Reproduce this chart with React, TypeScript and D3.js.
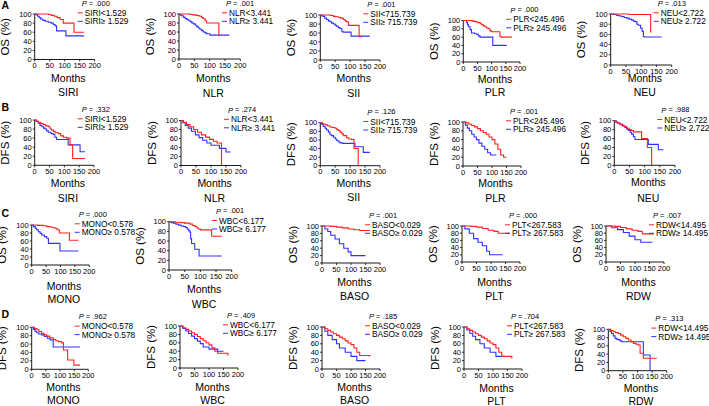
import React from "react";
import * as d3 from "d3";

type Pt = [number, number];

// ---------- labels ----------
const markers = ["SIRI", "NLR", "SII", "PLR", "NEU", "MONO", "WBC", "BASO", "PLT", "RDW"];
const cutoffs = ["1.529", "3.441", "715.739", "245.496", "2.722", "0.578", "6.177", "0.029", "267.583", "14.495"];
const endpoints = ["OS", "DFS", "OS", "DFS"];
const rowLetters = ["A", "B", "C", "D"];
const pValues = [
  ".000", ".001", ".001", ".000", ".013",
  ".332", ".274", ".126", ".001", ".988",
  ".000", ".001", ".001", ".000", ".007",
  ".962", ".409", ".185", ".704", ".313",
];
const yTicks = [0, 20, 40, 60, 80, 100];
const xTicks = [0, 50, 100, 150, 200];
const monthMax = 200;

// ---------- survival curves: [month, %] step points ----------
// Row A: OS
const OS_SIRI_LOW: Pt[] = [[0, 100], [45, 99], [55, 97], [65, 95], [75, 92], [85, 88], [95, 80], [131, 60], [165, 60]];
const OS_SIRI_HIGH: Pt[] = [[0, 100], [5, 98], [10, 95], [15, 92], [20, 89], [27, 86], [35, 84], [45, 82], [55, 80], [62, 77], [68, 74], [73, 63], [104, 52], [165, 52]];
const OS_NLR_LOW: Pt[] = [[0, 100], [36, 99], [45, 98], [55, 97], [62, 96], [68, 95], [74, 92], [79, 90], [85, 85], [90, 80], [130, 53], [134, 53]];
const OS_NLR_HIGH: Pt[] = [[0, 100], [3, 98], [8, 96], [14, 93], [20, 90], [25, 88], [30, 86], [36, 83], [42, 80], [47, 78], [53, 75], [58, 72], [63, 69], [68, 66], [74, 63], [79, 60], [85, 58], [90, 56], [101, 53], [164, 53]];
const OS_SII_LOW: Pt[] = [[0, 100], [35, 99], [44, 97], [52, 96], [60, 95], [68, 93], [77, 90], [83, 87], [88, 85], [94, 77], [130, 52], [139, 52]];
const OS_SII_HIGH: Pt[] = [[0, 100], [5, 98], [10, 97], [15, 93], [21, 90], [27, 87], [32, 85], [38, 82], [44, 80], [50, 77], [55, 75], [60, 72], [66, 70], [72, 64], [76, 62], [103, 53], [166, 53]];
const OS_PLR_LOW: Pt[] = [[0, 100], [30, 99], [35, 98], [45, 96], [53, 95], [60, 92], [65, 90], [70, 87], [76, 85], [82, 82], [88, 80], [94, 75], [100, 73], [129, 62], [134, 60], [171, 60]];
const OS_PLR_HIGH: Pt[] = [[0, 100], [12, 95], [15, 90], [18, 85], [24, 78], [29, 70], [40, 68], [47, 67], [53, 63], [59, 60], [104, 40], [153, 40]];
const OS_NEU_LOW: Pt[] = [[0, 100], [60, 99], [131, 65], [134, 65]];
const OS_NEU_HIGH: Pt[] = [[0, 100], [10, 99], [20, 97], [28, 96], [36, 95], [44, 93], [52, 92], [60, 90], [69, 88], [75, 86], [80, 85], [86, 80], [91, 78], [98, 72], [103, 66], [107, 56], [110, 55], [167, 55]];

// Row B: DFS
const DFS_SIRI_LOW: Pt[] = [[0, 100], [6, 97], [12, 95], [20, 92], [29, 90], [37, 87], [46, 85], [52, 80], [57, 78], [63, 75], [69, 72], [80, 70], [88, 65], [97, 62], [108, 60], [119, 45], [128, 15], [170, 15]];
const DFS_SIRI_HIGH: Pt[] = [[0, 100], [5, 97], [12, 93], [18, 88], [24, 85], [30, 82], [35, 80], [40, 76], [46, 73], [55, 70], [63, 68], [68, 62], [74, 57], [113, 45], [153, 30], [170, 30]];
const DFS_NLR_LOW: Pt[] = [[0, 100], [8, 96], [18, 91], [30, 86], [42, 80], [55, 74], [68, 68], [82, 63], [95, 58], [108, 54], [120, 50], [135, 0]];
const DFS_NLR_HIGH: Pt[] = [[0, 100], [6, 95], [14, 89], [24, 83], [35, 76], [48, 68], [60, 62], [72, 56], [86, 50], [100, 45], [128, 38], [150, 30], [165, 30]];
const DFS_SII_LOW: Pt[] = [[0, 100], [8, 97], [16, 95], [24, 93], [32, 90], [40, 89], [49, 87], [55, 84], [60, 82], [66, 78], [72, 74], [77, 70], [88, 65], [95, 62], [105, 61], [113, 40], [127, 0]];
const DFS_SII_HIGH: Pt[] = [[0, 100], [5, 96], [10, 91], [16, 87], [21, 83], [27, 78], [32, 72], [38, 70], [44, 66], [50, 62], [55, 58], [62, 55], [66, 53], [75, 52], [116, 44], [144, 31], [166, 31]];
const DFS_PLR_LOW: Pt[] = [[0, 100], [10, 98], [20, 95], [30, 92], [40, 89], [50, 85], [60, 80], [70, 76], [80, 72], [90, 66], [100, 60], [110, 50], [120, 38], [130, 25], [140, 20], [150, 20]];
const DFS_PLR_HIGH: Pt[] = [[0, 100], [8, 93], [15, 86], [22, 80], [30, 72], [38, 66], [46, 60], [55, 52], [65, 45], [75, 38], [85, 30], [95, 25], [115, 25]];
const DFS_NEU_LOW: Pt[] = [[0, 100], [6, 97], [12, 94], [18, 92], [24, 90], [32, 87], [41, 83], [49, 80], [57, 78], [63, 75], [90, 60], [109, 40], [123, 0]];
const DFS_NEU_HIGH: Pt[] = [[0, 100], [5, 97], [10, 95], [19, 92], [27, 88], [35, 85], [41, 81], [46, 78], [52, 74], [57, 70], [63, 64], [68, 58], [112, 47], [145, 35], [162, 35]];

// Row C: OS
const OS_MONO_LOW: Pt[] = [[0, 100], [20, 99], [40, 98], [52, 96], [64, 95], [72, 93], [81, 92], [88, 88], [96, 80], [131, 62], [162, 62]];
const OS_MONO_HIGH: Pt[] = [[0, 100], [6, 96], [12, 92], [17, 88], [23, 83], [29, 79], [35, 75], [44, 71], [52, 67], [58, 54], [98, 35], [162, 35]];
const OS_WBC_LOW: Pt[] = [[0, 100], [20, 99], [35, 98], [50, 97], [67, 95], [75, 92], [83, 90], [89, 87], [94, 85], [100, 83], [136, 70], [168, 70]];
const OS_WBC_HIGH: Pt[] = [[0, 100], [7, 98], [14, 97], [22, 95], [30, 93], [38, 91], [46, 90], [52, 88], [58, 85], [63, 81], [67, 78], [69, 65], [72, 55], [82, 43], [96, 29], [168, 29]];
const OS_BASO_LOW: Pt[] = [[0, 100], [30, 99], [50, 97], [70, 95], [90, 92], [110, 90], [130, 88], [165, 88]];
const OS_BASO_HIGH: Pt[] = [[0, 100], [10, 92], [20, 85], [30, 75], [45, 65], [60, 52], [75, 40], [90, 30], [100, 20], [150, 20]];
const OS_PLT_LOW: Pt[] = [[0, 100], [30, 99], [50, 97], [70, 93], [90, 88], [110, 85], [125, 80], [165, 80]];
const OS_PLT_HIGH: Pt[] = [[0, 100], [10, 92], [25, 80], [40, 65], [55, 55], [70, 45], [85, 30], [95, 20], [140, 20]];
const OS_RDW_LOW: Pt[] = [[0, 100], [30, 99], [50, 96], [70, 92], [90, 88], [110, 85], [125, 78], [165, 78]];
const OS_RDW_HIGH: Pt[] = [[0, 100], [20, 95], [40, 90], [60, 82], [80, 72], [100, 62], [120, 55], [160, 55]];

// Row D: DFS
const DFS_MONO_LOW: Pt[] = [[0, 100], [10, 97], [18, 94], [26, 90], [35, 86], [44, 82], [53, 79], [64, 75], [76, 71], [85, 68], [94, 66], [106, 63], [112, 46], [127, 22], [149, 10], [171, 10]];
const DFS_MONO_HIGH: Pt[] = [[0, 100], [6, 95], [12, 90], [18, 87], [25, 84], [35, 82], [45, 78], [55, 74], [65, 70], [76, 53], [171, 53]];
const DFS_WBC_LOW: Pt[] = [[0, 100], [10, 96], [20, 92], [30, 88], [40, 84], [50, 80], [60, 75], [70, 70], [80, 65], [90, 60], [100, 55], [110, 48], [120, 40], [130, 35], [165, 30]];
const DFS_WBC_HIGH: Pt[] = [[0, 100], [10, 94], [20, 88], [30, 82], [40, 76], [50, 70], [60, 64], [70, 58], [80, 50], [100, 45], [130, 40], [150, 40]];
const DFS_BASO_LOW: Pt[] = [[0, 100], [10, 96], [20, 92], [30, 88], [40, 84], [50, 80], [60, 76], [70, 72], [80, 67], [90, 62], [100, 58], [110, 50], [120, 40], [130, 32], [165, 30]];
const DFS_BASO_HIGH: Pt[] = [[0, 100], [10, 90], [20, 80], [35, 70], [50, 60], [60, 50], [80, 40], [100, 30], [120, 20], [150, 20]];
const DFS_PLT_LOW: Pt[] = [[0, 100], [10, 96], [20, 92], [30, 88], [40, 84], [50, 80], [60, 76], [70, 72], [80, 67], [90, 62], [100, 58], [110, 50], [120, 40], [130, 30], [165, 25]];
const DFS_PLT_HIGH: Pt[] = [[0, 100], [10, 93], [20, 85], [30, 78], [40, 70], [55, 60], [70, 50], [90, 40], [110, 30], [140, 30]];
const DFS_RDW_LOW: Pt[] = [[0, 100], [8, 97], [17, 94], [25, 92], [34, 90], [42, 86], [51, 82], [60, 78], [69, 74], [78, 70], [86, 66], [95, 64], [103, 62], [109, 42], [120, 30], [166, 30]];
const DFS_RDW_HIGH: Pt[] = [[0, 100], [6, 95], [11, 90], [17, 84], [23, 78], [30, 75], [40, 72], [46, 70], [120, 38], [143, 0]];

const curves: [Pt[], Pt[]][] = [
  [OS_SIRI_LOW, OS_SIRI_HIGH], [OS_NLR_LOW, OS_NLR_HIGH], [OS_SII_LOW, OS_SII_HIGH], [OS_PLR_LOW, OS_PLR_HIGH], [OS_NEU_LOW, OS_NEU_HIGH],
  [DFS_SIRI_LOW, DFS_SIRI_HIGH], [DFS_NLR_LOW, DFS_NLR_HIGH], [DFS_SII_LOW, DFS_SII_HIGH], [DFS_PLR_LOW, DFS_PLR_HIGH], [DFS_NEU_LOW, DFS_NEU_HIGH],
  [OS_MONO_LOW, OS_MONO_HIGH], [OS_WBC_LOW, OS_WBC_HIGH], [OS_BASO_LOW, OS_BASO_HIGH], [OS_PLT_LOW, OS_PLT_HIGH], [OS_RDW_LOW, OS_RDW_HIGH],
  [DFS_MONO_LOW, DFS_MONO_HIGH], [DFS_WBC_LOW, DFS_WBC_HIGH], [DFS_BASO_LOW, DFS_BASO_HIGH], [DFS_PLT_LOW, DFS_PLT_HIGH], [DFS_RDW_LOW, DFS_RDW_HIGH],
];

// ---------- layout (pixels): x of 0, x of 200, y of 100%, y of 0%, "Months" y, name y ----------
const panelBox: number[][] = [
  [34.7, 94.7, 14, 59.5, 78, 92],
  [179, 240.3, 14, 59, 78.3, 92.5],
  [320.3, 380, 15, 60, 78.3, 92.5],
  [463.3, 520, 20.5, 62, 79, 91.7],
  [610.7, 671.7, 14, 65, 78.3, 91.7],
  [34.7, 94, 120, 165.3, 183.3, 197.7],
  [181, 241, 120.5, 165.5, 183, 197.5],
  [320.3, 380, 122.7, 165.7, 183.3, 197.3],
  [463, 521, 122, 166, 183, 197.5],
  [614.3, 675, 120.7, 165.3, 181.7, 198.3],
  [31.7, 89.3, 225, 265, 286, 299.3],
  [169, 231.7, 221.7, 270, 289.3, 303.5],
  [322, 380, 226, 263, 282, 296],
  [462, 520, 226, 262, 282, 296],
  [606, 664, 226, 262, 282, 296],
  [31.7, 88.3, 327.3, 369.3, 386.7, 400],
  [180, 238, 326, 368, 387, 400],
  [322, 380, 327, 369, 387, 400],
  [464, 522, 327, 369, 388, 401],
  [608.3, 666.7, 329.3, 370.7, 388.3, 400.7],
];
const rowLetterY = [8.5, 110.5, 216.5, 317.5];

const FONT = "'Liberation Sans', Arial, Helvetica, sans-serif";
const RED = "#ff2020";
const BLUE = "#3030ff";

function Panel({ i }: { i: number }) {
  const r = Math.floor(i / 5);
  const c = i % 5;
  const m = (r >= 2 ? 5 : 0) + c;
  const [x0, x1, yT, yB, mY, nY] = panelBox[i];
  const [lo, hi] = curves[i];
  const x = d3.scaleLinear().domain([0, monthMax]).range([x0, x1]);
  const y = d3.scaleLinear().domain([0, 100]).range([yB, yT]);
  const line = d3
    .line<Pt>()
    .x((d) => x(d[0]))
    .y((d) => y(d[1]))
    .curve(d3.curveStepAfter);
  const cx = x0 + 0.56 * (x1 - x0);
  const legX = x0 + 43;
  const row1 = yT - 1.2;
  const row2 = yT + 7.3;
  return (
    <g>
      <text
        transform={`translate(${x0 - 29.5},${(yT + yB) / 2}) rotate(-90)`}
        textAnchor="middle"
        dominantBaseline="central"
        fontSize={11.5}
      >
        {endpoints[r]} (%)
      </text>
      {yTicks.map((t) => (
        <g key={"y" + t}>
          <line x1={x0 - 2} x2={x0} y1={y(t)} y2={y(t)} stroke="#000" strokeWidth={0.8} />
          <text x={x0 - 3} y={y(t)} textAnchor="end" dominantBaseline="central" fontSize={7.5}>
            {t}
          </text>
        </g>
      ))}
      {xTicks.map((t) => (
        <g key={"x" + t}>
          <line x1={x(t)} x2={x(t)} y1={yB} y2={yB + 2} stroke="#000" strokeWidth={0.8} />
          <text x={x(t)} y={yB + 6} textAnchor="middle" dominantBaseline="central" fontSize={7.5}>
            {t}
          </text>
        </g>
      ))}
      <line x1={x0} x2={x0} y1={yT} y2={yB} stroke="#000" strokeWidth={0.9} />
      <line x1={x0} x2={x1} y1={yB} y2={yB} stroke="#000" strokeWidth={0.9} />
      <path d={line(hi) || ""} fill="none" stroke={BLUE} strokeWidth={1.1} />
      <path d={line(lo) || ""} fill="none" stroke={RED} strokeWidth={1.1} />
      <text x={cx} y={mY} textAnchor="middle" dominantBaseline="central" fontSize={10.5}>
        Months
      </text>
      <text x={cx} y={nY} textAnchor="middle" dominantBaseline="central" fontSize={10.5}>
        {markers[m]}
      </text>
      <text x={x0 + 47} y={row1 - 9.8} dominantBaseline="central" fontSize={7.5}>
        <tspan fontStyle="italic">P</tspan> = {pValues[i]}
      </text>
      <line x1={legX} x2={legX + 5} y1={row1} y2={row1} stroke={RED} strokeWidth={1} />
      <text x={x0 + 50} y={row1} dominantBaseline="central" fontSize={8.3}>
        {markers[m]}&lt;{cutoffs[m]}
      </text>
      <line x1={legX} x2={legX + 5} y1={row2} y2={row2} stroke={BLUE} strokeWidth={1} />
      <text x={x0 + 50} y={row2} dominantBaseline="central" fontSize={8.3}>
        {markers[m]}≥ {cutoffs[m]}
      </text>
    </g>
  );
}

export default function App() {
  return (
    <svg
      width={709}
      height={406}
      style={{ position: "absolute", left: 0, top: 0, display: "block" }}
      fontFamily={FONT}
    >
      <rect width={709} height={406} fill="#fff" />
      {rowLetters.map((l, r) => (
        <text key={l} x={1.5} y={rowLetterY[r]} fontSize={10.5} fontWeight="bold">
          {l}
        </text>
      ))}
      {panelBox.map((_, i) => (
        <Panel key={i} i={i} />
      ))}
    </svg>
  );
}
